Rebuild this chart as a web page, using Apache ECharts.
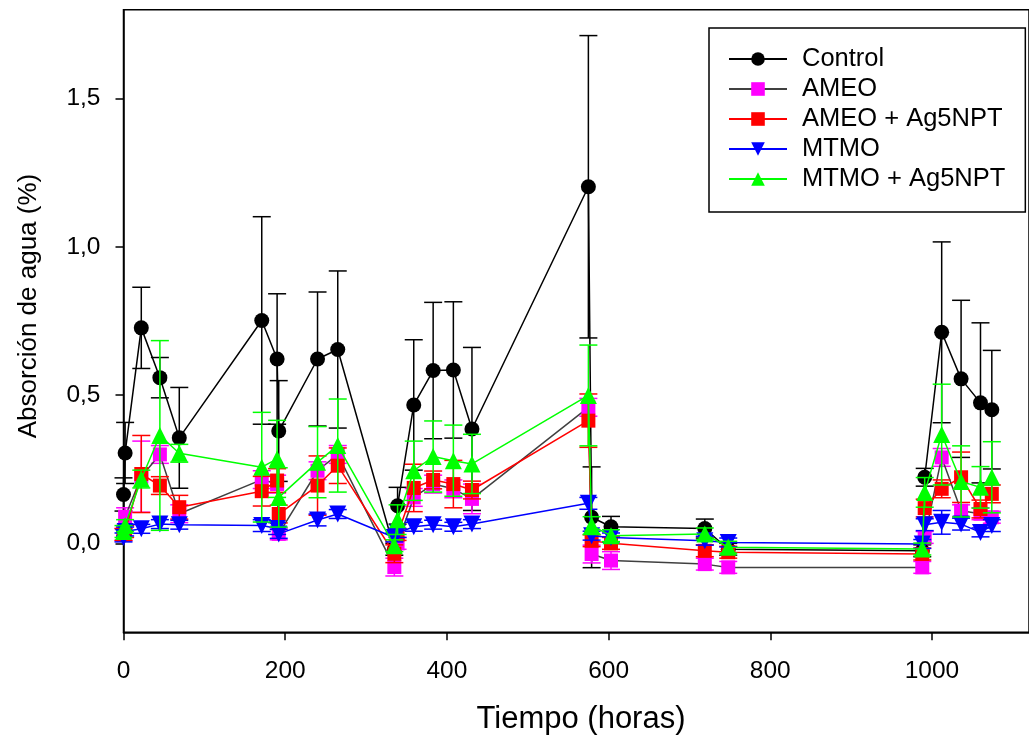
<!DOCTYPE html>
<html>
<head>
<meta charset="utf-8">
<script src="https://cdn.jsdelivr.net/npm/echarts@6/dist/echarts.min.js"></script>
<style>
html,body{margin:0;padding:0;background:#fff;}
#chart{width:1029px;height:735px;}
</style>
</head>
<body>
<div id="chart"></div>
<script>
// ---- data (hours, % water absorption, ± error) ----
const times = [0, 2, 22, 45, 69, 171, 190, 192, 240, 265, 335, 339, 359, 383, 408, 431, 575, 579, 603, 719, 748, 988, 991, 1012, 1036, 1060, 1074];

const controlVals = [0.165, 0.305, 0.727, 0.559, 0.356, 0.752, 0.622, 0.379, 0.622, 0.654, -0.02, 0.127, 0.467, 0.583, 0.585, 0.386, 1.203, 0.088, 0.056, 0.050, -0.02, -0.025, 0.223, 0.712, 0.555, 0.474, 0.451];
const controlErr  = [0.056, 0.103, 0.137, 0.068, 0.17, 0.35, 0.22, 0.17, 0.226, 0.265, 0.02, 0.062, 0.22, 0.23, 0.23, 0.275, 0.51, 0.17, 0.035, 0.032, 0.02, 0.02, 0.03, 0.305, 0.265, 0.27, 0.2];

const ameoVals = [0.03, 0.09, 0.225, 0.30, 0.10, 0.215, 0.20, 0.032, 0.245, 0.30, -0.08, 0.0, 0.155, 0.20, 0.184, 0.15, 0.459, -0.036, -0.058, -0.07, -0.081, -0.081, 0.02, 0.29, 0.11, 0.10, 0.088];
const ameoErr  = [0.02, 0.03, 0.12, 0.03, 0.03, 0.03, 0.03, 0.02, 0.03, 0.03, 0.03, 0.02, 0.03, 0.03, 0.03, 0.05, 0.03, 0.03, 0.03, 0.02, 0.02, 0.02, 0.02, 0.03, 0.02, 0.02, 0.02];

const ameoAgVals = [0.03, 0.04, 0.234, 0.195, 0.122, 0.176, 0.212, 0.099, 0.195, 0.262, -0.035, 0.03, 0.187, 0.214, 0.20, 0.18, 0.414, 0.009, 0.0, -0.025, -0.03, -0.036, 0.119, 0.184, 0.223, 0.116, 0.167];
const ameoAgErr  = [0.02, 0.02, 0.13, 0.03, 0.04, 0.05, 0.04, 0.03, 0.10, 0.06, 0.03, 0.02, 0.08, 0.03, 0.08, 0.03, 0.09, 0.02, 0.02, 0.02, 0.02, 0.02, 0.03, 0.03, 0.085, 0.03, 0.03];

const mtmoVals = [0.02, 0.04, 0.049, 0.065, 0.063, 0.06, 0.05, 0.032, 0.079, 0.099, 0.02, 0.035, 0.056, 0.063, 0.056, 0.065, 0.135, 0.026, 0.02, 0.009, 0.003, -0.002, 0.063, 0.071, 0.065, 0.037, 0.06];
const mtmoErr  = [0.015, 0.015, 0.015, 0.015, 0.015, 0.02, 0.02, 0.015, 0.02, 0.015, 0.015, 0.015, 0.015, 0.015, 0.015, 0.015, 0.02, 0.015, 0.015, 0.015, 0.015, 0.015, 0.02, 0.04, 0.02, 0.015, 0.02];

const mtmoAgVals = [0.04, 0.06, 0.217, 0.364, 0.304, 0.257, 0.285, 0.155, 0.274, 0.33, -0.008, 0.08, 0.245, 0.293, 0.279, 0.268, 0.499, 0.06, 0.026, 0.032, -0.013, -0.019, 0.172, 0.367, 0.209, 0.189, 0.223];
const mtmoAgErr  = [0.02, 0.02, 0.03, 0.32, 0.03, 0.185, 0.13, 0.10, 0.12, 0.157, 0.02, 0.05, 0.10, 0.12, 0.12, 0.10, 0.17, 0.03, 0.02, 0.02, 0.02, 0.02, 0.05, 0.17, 0.12, 0.07, 0.12];

const xTicks = [0, 200, 400, 600, 800, 1000];
const yTicks = [0, 0.5, 1.0, 1.5];

const seriesDefs = [
  {name: 'Control',        vals: controlVals, err: controlErr, color: '#000000', line: '#000000', symbol: 'circle',   size: 15, rot: 0},
  {name: 'AMEO',           vals: ameoVals,    err: ameoErr,    color: '#ff00ff', line: '#404040', symbol: 'rect',     size: 14, rot: 0},
  {name: 'AMEO + Ag5NPT',  vals: ameoAgVals,  err: ameoAgErr,  color: '#ff0000', line: '#ff0000', symbol: 'rect',     size: 14, rot: 0},
  {name: 'MTMO',           vals: mtmoVals,    err: mtmoErr,    color: '#0000ff', line: '#0000ff', symbol: 'triangle', size: 17, rot: 180},
  {name: 'MTMO + Ag5NPT',  vals: mtmoAgVals,  err: mtmoAgErr,  color: '#00ff00', line: '#00ff00', symbol: 'triangle', size: 17, rot: 0}
];

const FONT = '"Liberation Sans", Arial, Helvetica, sans-serif';

const series = [];
seriesDefs.forEach(function (d, i) {
  const errData = times.map(function (t, k) { return [t, d.vals[k], d.err[k]]; });
  series.push({
    name: d.name + ' err',
    type: 'custom',
    z: 2 + i * 2,
    silent: true,
    encode: {x: 0, y: 1},
    data: errData,
    renderItem: function (params, api) {
      const t = api.value(0), v = api.value(1), e = api.value(2);
      const hi = api.coord([t, v + e]);
      const lo = api.coord([t, v - e]);
      const hw = 9;
      const st = {stroke: d.color, lineWidth: 1.5, fill: null};
      return {
        type: 'group',
        children: [
          {type: 'line', shape: {x1: hi[0], y1: hi[1], x2: lo[0], y2: lo[1]}, style: st},
          {type: 'line', shape: {x1: hi[0] - hw, y1: hi[1], x2: hi[0] + hw, y2: hi[1]}, style: st},
          {type: 'line', shape: {x1: lo[0] - hw, y1: lo[1], x2: lo[0] + hw, y2: lo[1]}, style: st}
        ]
      };
    }
  });
  series.push({
    name: d.name,
    type: 'line',
    z: 3 + i * 2,
    data: times.map(function (t, k) { return [t, d.vals[k]]; }),
    symbol: d.symbol,
    symbolSize: d.size,
    symbolRotate: d.rot,
    showAllSymbol: true,
    itemStyle: {color: d.color, borderWidth: 0},
    lineStyle: {color: d.line, width: 1.5},
    emphasis: {disabled: true}
  });
});

const chart = echarts.init(document.getElementById('chart'), null, {renderer: 'canvas'});
chart.setOption({
  animation: false,
  backgroundColor: '#ffffff',
  grid: {left: 123.5, top: 9.8, width: 912, height: 622.5, show: true, borderColor: '#000', borderWidth: 1.5, backgroundColor: 'transparent'},
  xAxis: {
    type: 'value', min: 0, max: 1120,
    axisLine: {show: true, onZero: false, lineStyle: {color: '#000', width: 1.5}},
    axisTick: {show: true, inside: false, length: 8, lineStyle: {color: '#000', width: 1.5}, customValues: xTicks},
    axisLabel: {color: '#000', fontSize: 24.5, fontFamily: FONT, margin: 26, customValues: xTicks,
      formatter: function (v) { return String(v); }},
    splitLine: {show: false}
  },
  yAxis: {
    type: 'value', min: -0.3, max: 1.8,
    axisLine: {show: true, onZero: false, lineStyle: {color: '#000', width: 1.5}},
    axisTick: {show: true, inside: false, length: 8, lineStyle: {color: '#000', width: 1.5}, customValues: yTicks},
    axisLabel: {color: '#000', fontSize: 24.5, fontFamily: FONT, margin: 23, customValues: yTicks,
      formatter: function (v) { return v.toFixed(1).replace('.', ','); }},
    splitLine: {show: false}
  },
  legend: {
    data: seriesDefs.map(function (d) { return d.name; }),
    orient: 'vertical',
    left: 709, top: 28,
    padding: [16, 20, 18, 19],
    itemGap: 0,
    itemWidth: 58,
    itemHeight: 17,
    borderColor: '#000', borderWidth: 1.5, borderRadius: 0,
    backgroundColor: '#fff',
    selectedMode: false,
    textStyle: {color: '#000', fontSize: 25.5, fontFamily: FONT, lineHeight: 30, padding: [0, 0, 0, 10]}
  },
  graphic: [
    {type: 'text', x: 581, y: 719, style: {text: 'Tiempo (horas)', x: 0, y: 0, textAlign: 'center', textVerticalAlign: 'middle', fontSize: 31, fontFamily: FONT, fill: '#000'}},
    {type: 'text', x: 29, y: 306, rotation: Math.PI / 2, style: {text: 'Absorción de agua (%)', x: 0, y: 0, textAlign: 'center', textVerticalAlign: 'middle', fontSize: 26, fontFamily: FONT, fill: '#000'}}
  ],
  series: series
});
</script>
</body>
</html>
